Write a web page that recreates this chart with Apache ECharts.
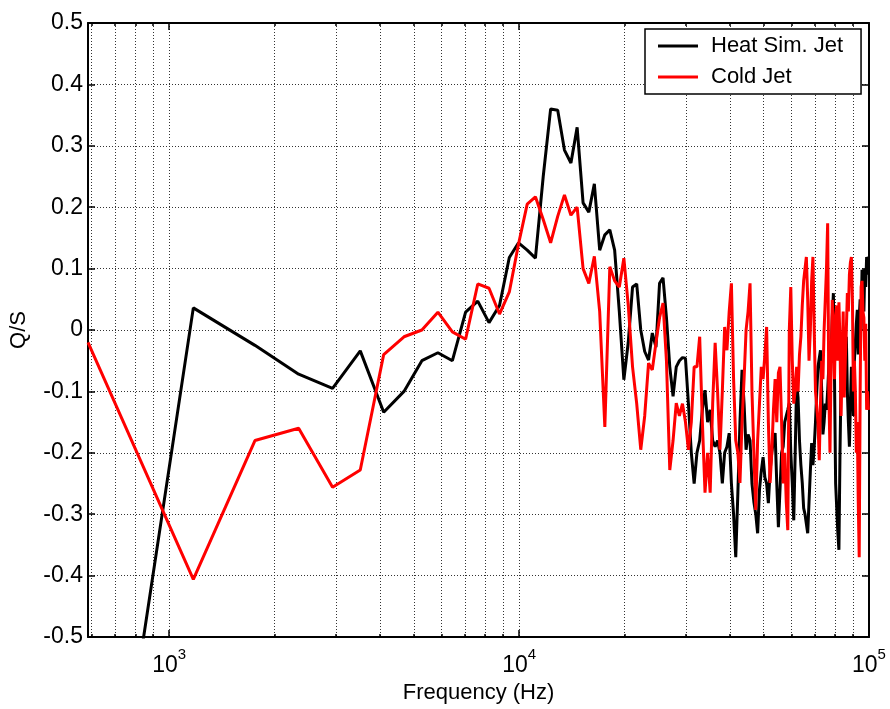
<!DOCTYPE html>
<html>
<head>
<meta charset="utf-8">
<script src="https://cdn.jsdelivr.net/npm/echarts@6/dist/echarts.min.js"></script>
<style>html,body{margin:0;padding:0;background:#fff;}#c{width:890px;height:709px;}</style>
</head>
<body>
<div id="c"></div>
<script>
// FFT bin width (Hz): sample k sits at k * binHz
const binHz = 586;
const seriesNames = ['Heat Sim. Jet', 'Cold Jet'];
const heatSimJet = [
  -1.1, 0.036, -0.025, -0.072, -0.095, -0.034, -0.134, -0.100, -0.050, -0.037,
  -0.050, 0.029, 0.047, 0.012, 0.040, 0.118, 0.142, 0.130, 0.117, 0.250,
  0.360, 0.358, 0.293, 0.272, 0.330, 0.207, 0.192, 0.238, 0.130, 0.155,
  0.163, 0.130, 0.030, -0.081, -0.020, 0.070, 0.075, 0.000, -0.035, -0.049,
  -0.005, -0.028, 0.076, 0.085, 0.020, -0.060, -0.108, -0.060, -0.050, -0.045,
  -0.046, -0.120, -0.200, -0.250, -0.200, -0.180, -0.130, -0.098, -0.150, -0.130,
  -0.180, -0.190, -0.180, -0.200, -0.250, -0.200, -0.190, -0.168, -0.250, -0.300,
  -0.370, -0.265, -0.150, -0.065, -0.120, -0.195, -0.170, -0.180, -0.250, -0.280,
  -0.300, -0.331, -0.260, -0.230, -0.207, -0.240, -0.250, -0.282, -0.230, -0.200,
  -0.180, -0.168, -0.250, -0.321, -0.260, -0.200, -0.190, -0.150, -0.150, -0.130,
  -0.119, -0.200, -0.250, -0.310, -0.200, -0.086, -0.110, -0.180, -0.220, -0.249,
  -0.290, -0.300, -0.300, -0.331, -0.280, -0.230, -0.184, -0.220, -0.190, -0.150,
  -0.100, -0.060, -0.060, -0.033, -0.100, -0.170, -0.150, -0.120, -0.130, -0.100,
  -0.060, -0.020, -0.040, 0.020, 0.060, -0.080, -0.250, -0.250, -0.330, -0.358,
  -0.200, -0.080, -0.050, -0.100, -0.080, -0.050, -0.011, -0.100, -0.150, -0.190,
  -0.120, -0.060, -0.080, -0.140, -0.050, -0.020, 0.010, 0.033, -0.040, 0.020,
  0.050, 0.000, 0.098, 0.060, 0.030, 0.100, 0.070, 0.119, 0.090, 0.119
];
const coldJet = [
  -0.020, -0.406, -0.180, -0.160, -0.256, -0.228, -0.040, -0.011, 0.000, 0.029,
  -0.003, -0.015, 0.075, 0.068, 0.026, 0.062, 0.140, 0.205, 0.217, 0.180,
  0.142, 0.185, 0.220, 0.187, 0.200, 0.100, 0.076, 0.120, 0.030, -0.158,
  0.103, 0.080, 0.070, 0.117, 0.040, -0.060, -0.120, -0.195, -0.140, -0.054,
  -0.065, -0.021, 0.020, 0.044, -0.050, -0.228, -0.180, -0.119, -0.140, -0.120,
  -0.150, -0.195, -0.150, -0.060, -0.060, -0.011, -0.150, -0.265, -0.200, -0.265,
  -0.120, -0.021, -0.100, -0.195, -0.100, 0.005, -0.033, 0.030, 0.076, -0.080,
  -0.180, -0.200, -0.249, -0.150, -0.080, 0.000, 0.030, 0.076, -0.100, -0.200,
  -0.293, -0.180, -0.120, -0.060, -0.080, -0.040, 0.005, -0.150, -0.249, -0.200,
  -0.130, -0.080, -0.150, -0.070, -0.060, -0.150, -0.250, -0.200, -0.280, -0.326,
  0.000, 0.070, -0.050, -0.120, -0.098, -0.060, -0.100, -0.040, -0.011, 0.040,
  0.080, 0.100, 0.119, 0.050, -0.050, 0.000, 0.080, 0.119, 0.000, -0.100,
  -0.100, -0.150, -0.212, -0.120, -0.050, -0.080, 0.000, 0.050, 0.100, 0.174,
  -0.100, -0.200, -0.050, 0.049, 0.000, -0.080, 0.020, 0.040, -0.050, 0.045,
  -0.020, -0.140, -0.050, 0.030, -0.110, -0.050, 0.000, 0.060, 0.030, 0.090,
  0.110, 0.119, 0.050, -0.100, -0.050, -0.100, -0.200, -0.150, -0.280, -0.370,
  -0.100, 0.070, 0.080, 0.030, 0.020, -0.050, 0.010, -0.130, -0.100, -0.130
];
const xMin = 586, xMax = 100000;
const majorTicks = [1000, 10000, 100000];
const gridTicks = [600, 700, 800, 900, 1000, 2000, 3000, 4000, 5000, 6000, 7000, 8000, 9000,
  10000, 20000, 30000, 40000, 50000, 60000, 70000, 80000, 90000, 100000];
const yMin = -0.5, yMax = 0.5, yStep = 0.1;

const FONT = '"Liberation Sans", Arial, Helvetica, sans-serif';
const toPairs = arr => arr.map((v, i) => [(i + 1) * binHz, v]);

const chart = echarts.init(document.getElementById('c'), null, {renderer: 'canvas'});
const gridStyle = {type: [1, 2], color: '#333', width: 1};
const xBase = {type: 'log', logBase: 10, min: xMin, max: xMax};
const pow10Label = v => '{b|10}{s|' + Math.round(Math.log10(v)) + '}';
const axisLine = {show: true, onZero: false, lineStyle: {color: '#000', width: 2}};
const noLine = {show: false, onZero: false};

chart.setOption({
  animation: false,
  backgroundColor: '#fff',
  grid: {left: 87, right: 21, top: 23, bottom: 72, containLabel: false},
  legend: {
    left: 645, top: 29, orient: 'vertical',
    data: seriesNames, icon: 'rect', itemWidth: 40, itemHeight: 3, itemGap: 9,
    padding: [6, 18, 6, 13],
    borderColor: '#000', borderWidth: 1.5, backgroundColor: '#fff',
    textStyle: {fontFamily: FONT, fontSize: 22, color: '#000', padding: [0, 0, 0, 8]}
  },
  xAxis: [
    Object.assign({}, xBase, {
      position: 'bottom',
      name: 'Frequency (Hz)', nameLocation: 'middle', nameGap: 42,
      nameTextStyle: {fontFamily: FONT, fontSize: 22, color: '#000'},
      axisLine: axisLine,
      axisTick: {show: true, inside: true, length: 7, customValues: majorTicks, lineStyle: {color: '#000', width: 1.5}},
      axisLabel: {show: true, customValues: majorTicks, margin: 10, formatter: pow10Label,
        rich: {
          b: {fontFamily: FONT, fontSize: 23, color: '#000', verticalAlign: 'bottom', lineHeight: 30},
          s: {fontFamily: FONT, fontSize: 15, color: '#000', verticalAlign: 'top', lineHeight: 30}
        }},
      splitLine: {show: false}
    }),
    Object.assign({}, xBase, {
      position: 'bottom',
      axisLine: noLine,
      axisTick: {show: true, inside: true, length: 3, customValues: gridTicks, lineStyle: {color: '#000', width: 1.5}},
      axisLabel: {show: false},
      splitLine: {show: true, lineStyle: gridStyle}
    }),
    Object.assign({}, xBase, {
      position: 'top',
      axisLine: axisLine,
      axisTick: {show: true, inside: true, length: 7, customValues: majorTicks, lineStyle: {color: '#000', width: 1.5}},
      axisLabel: {show: false},
      splitLine: {show: false}
    }),
    Object.assign({}, xBase, {
      position: 'top',
      axisLine: noLine,
      axisTick: {show: true, inside: true, length: 3, customValues: gridTicks, lineStyle: {color: '#000', width: 1.5}},
      axisLabel: {show: false},
      splitLine: {show: false}
    })
  ],
  yAxis: [
    {
      type: 'value', position: 'left', min: yMin, max: yMax, interval: yStep,
      name: 'Q/S', nameLocation: 'middle', nameGap: 58,
      nameTextStyle: {fontFamily: FONT, fontSize: 22, color: '#000'},
      axisLine: axisLine,
      axisTick: {show: true, inside: true, length: 7, lineStyle: {color: '#000', width: 1.5}},
      axisLabel: {fontFamily: FONT, fontSize: 23, color: '#000', margin: 5,
        formatter: v => String(Math.round(v * 10) / 10)},
      splitLine: {show: true, lineStyle: gridStyle}
    },
    {
      type: 'value', position: 'right', min: yMin, max: yMax, interval: yStep,
      axisLine: axisLine,
      axisTick: {show: true, inside: true, length: 7, lineStyle: {color: '#000', width: 1.5}},
      axisLabel: {show: false},
      splitLine: {show: false}
    }
  ],
  series: [
    {
      name: seriesNames[0], type: 'line', xAxisIndex: 0, yAxisIndex: 0,
      data: toPairs(heatSimJet), showSymbol: false, symbol: 'none', clip: true,
      lineStyle: {color: '#000', width: 3}, itemStyle: {color: '#000'}, z: 3
    },
    {
      name: seriesNames[1], type: 'line', xAxisIndex: 0, yAxisIndex: 0,
      data: toPairs(coldJet), showSymbol: false, symbol: 'none', clip: true,
      lineStyle: {color: '#ff0000', width: 3}, itemStyle: {color: '#ff0000'}, z: 4
    }
  ]
});
</script>
</body>
</html>
